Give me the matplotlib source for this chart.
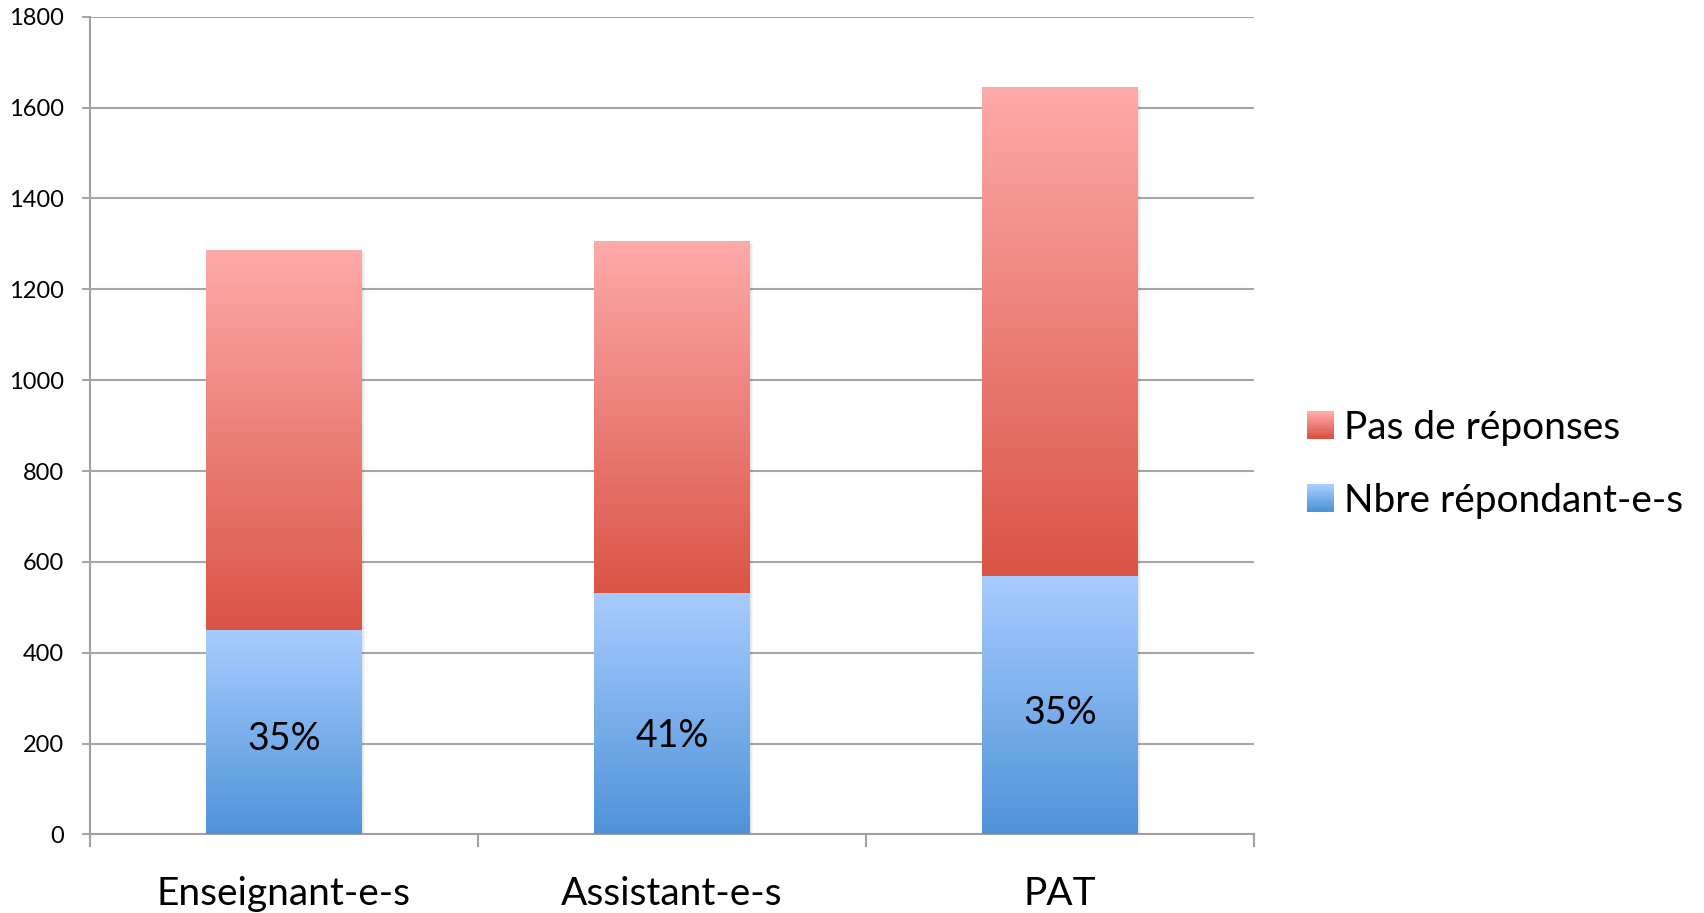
import numpy as np
import matplotlib
matplotlib.use("Agg")
import matplotlib.pyplot as plt
from matplotlib.colors import LinearSegmentedColormap
from matplotlib.patches import Rectangle
from matplotlib.legend_handler import HandlerBase
from matplotlib.transforms import offset_copy

categories = ["Enseignant-e-s", "Assistant-e-s", "PAT"]
repondants = [449, 532, 568]
pas_de_reponses = [836, 773, 1076]
pourcentages = ["35%", "41%", "35%"]
# height (in data units) where each percentage label sits in the chart
label_y = [217, 224, 274]
y_ticks = [0, 200, 400, 600, 800, 1000, 1200, 1400, 1600, 1800]

red_cmap = LinearSegmentedColormap.from_list("red", ["#DA5446", "#FDAAA9"])
blue_cmap = LinearSegmentedColormap.from_list("blue", ["#4F93D8", "#A8CCFF"])

plt.rcParams['font.family'] = ['Lato', 'DejaVu Sans']


def gradient_bar(ax, rect, cmap):
    x, y = rect.get_x(), rect.get_y()
    w, h = rect.get_width(), rect.get_height()
    grad = np.linspace(0, 1, 256).reshape(-1, 1)
    ax.imshow(grad, cmap=cmap, origin="lower", aspect="auto",
              extent=(x, x + w, y, y + h), zorder=3, interpolation="bicubic")
    rect.set_facecolor("none")


def soft_shadow(ax, fig, rect):
    # light blurred shadow to the right / bottom of each stacked bar
    for k in range(1, 5):
        tr = offset_copy(ax.transData, fig=fig, x=k * 0.9, y=-k * 0.6, units="dots")
        ax.add_patch(Rectangle((rect.get_x(), rect.get_y()), rect.get_width(),
                               rect.get_height(), transform=tr, facecolor="#000000",
                               alpha=0.035, edgecolor="none", zorder=2.5))


class GradientHandler(HandlerBase):
    def __init__(self, cmap):
        super().__init__()
        self.cmap = cmap

    def create_artists(self, legend, orig_handle, xdescent, ydescent,
                       width, height, fontsize, trans):
        n = 12
        size = height
        x0 = -xdescent + (width - size) / 2
        arts = []
        for i in range(n):
            r = Rectangle((x0, -ydescent + size * i / n), size, size / n + 0.3,
                          facecolor=self.cmap(i / (n - 1)), edgecolor="none",
                          transform=trans)
            arts.append(r)
        return arts


fig = plt.figure(figsize=(17.04, 9.13), dpi=100)
ax = fig.add_axes([0.0528, 0.086, 0.683, 0.8957])

pos = np.arange(len(categories))
b1 = ax.bar(pos, repondants, width=0.4, zorder=3)
b2 = ax.bar(pos, pas_de_reponses, width=0.4, bottom=repondants, zorder=3)
for r1, r2 in zip(b1, b2):
    full = Rectangle((r1.get_x(), 0), r1.get_width(), r1.get_height() + r2.get_height())
    soft_shadow(ax, fig, full)
for r in b1:
    gradient_bar(ax, r, blue_cmap)
for r in b2:
    gradient_bar(ax, r, red_cmap)

text_tr = offset_copy(ax.transData, fig=fig, x=0, y=-3, units="dots")
for p, ly, t in zip(pos, label_y, pourcentages):
    ax.text(p, ly, t, ha="center", va="center", fontsize=27, zorder=4,
            transform=text_tr)

ax.set_xlim(-0.5, 2.5)
ax.set_ylim(0, 1800)
ax.set_yticks(y_ticks)
ax.set_yticklabels([str(v) for v in y_ticks], fontsize=17)
ax.yaxis.grid(True, color="#A6A6A6", linewidth=1.5, zorder=0)
ax.set_axisbelow(True)

ax.set_xticks(pos)
ax.set_xticklabels(categories, fontsize=28)
ax.set_xticks([-0.5, 0.5, 1.5, 2.5], minor=True)
ax.tick_params(axis="x", which="major", length=0, pad=30)
ax.tick_params(axis="x", which="minor", length=9, width=1.5, color="#A0A0A0")
ax.tick_params(axis="y", length=6, width=1.5, color="#A6A6A6", pad=13)

for s in ["top", "right"]:
    ax.spines[s].set_visible(False)
for s in ["left", "bottom"]:
    ax.spines[s].set_color("#A0A0A0")
    ax.spines[s].set_linewidth(1.5)

h_red = Rectangle((0, 0), 1, 1)
h_blue = Rectangle((0, 0), 1, 1)
ax.legend([h_red, h_blue], ["Pas de réponses", "Nbre répondant-e-s"],
          handler_map={h_red: GradientHandler(red_cmap),
                       h_blue: GradientHandler(blue_cmap)},
          loc="center left", bbox_to_anchor=(1.012, 0.453), frameon=False,
          fontsize=28, handlelength=0.9, handletextpad=0.15, labelspacing=0.95)

plt.savefig("out.png", dpi=100)
